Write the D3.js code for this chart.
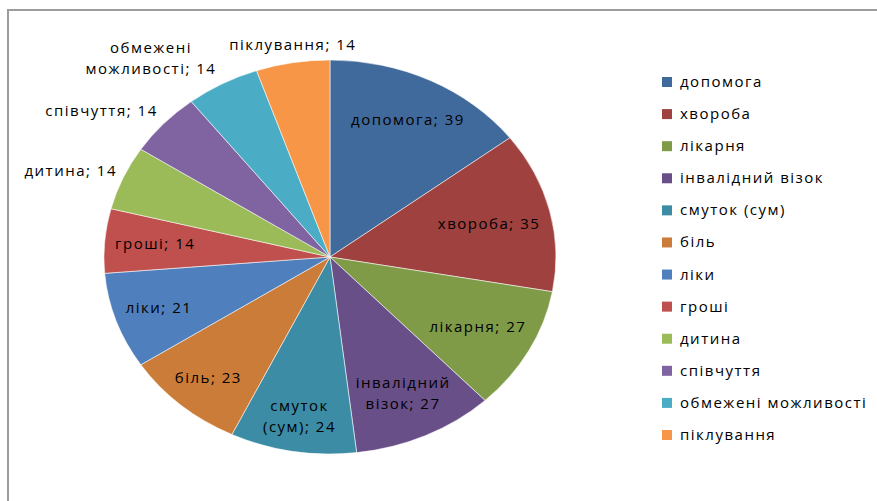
<!DOCTYPE html>
<html><head><meta charset="utf-8">
<script src="https://cdn.jsdelivr.net/npm/d3@7"></script>
<style>
body{margin:0;background:#fff}
text{font-family:"Open Sans",sans-serif;font-size:15px;letter-spacing:1.5px;fill:#000}
</style>
</head><body>
<svg id="c" width="877" height="501"></svg>
<script>
const categories = ["допомога","хвороба","лікарня","інвалідний візок","смуток (сум)","біль","ліки","гроші","дитина","співчуття","обмежені можливості","піклування"];
const values = [39,35,27,27,24,23,21,14,14,14,14,14];
const colors = ["#416a9c","#9e413f","#7f9b48","#684f88","#3c8ca5","#cb7c39","#4f80bd","#c0504d","#9bbb59","#8064a2","#4bacc6","#f79646"];

const data = categories.map((c,i)=>({c, v:values[i], col:colors[i]}));
const svg = d3.select("#c");

// frame
svg.append("path").attr("d","M8,501V10H877").attr("fill","none").attr("stroke","#9c9c9c").attr("stroke-width",2);

const cx=330, cy=257, rx=226, ry=197;
const arcs = d3.pie().sort(null).value(d=>d.v)(data);
const arc = d3.arc().innerRadius(0).outerRadius(1);

svg.append("g").attr("transform",`translate(${cx},${cy}) scale(${rx},${ry})`)
  .selectAll("path").data(arcs).join("path")
  .attr("d",arc).attr("fill",d=>d.data.col)
  .attr("stroke","#fff").attr("stroke-opacity",0.55).attr("stroke-width",1)
  .attr("vector-effect","non-scaling-stroke");

// labels
const lh = 20.5;
const lg = svg.append("g");
const norm = (x,y)=>Math.hypot((x-cx)/rx,(y-cy)/ry);
const ang = (x,y)=>{let a=Math.atan2((x-cx)/rx, -(y-cy)/ry); if(a<0) a+=2*Math.PI; return a;};

arcs.forEach(d=>{
  const name = d.data.c;
  const sp = name.indexOf(" ");
  const lines = sp>0 ? [name.slice(0,sp), name.slice(sp+1)+"; "+d.data.v] : [name+"; "+d.data.v];
  const t = lg.append("text").attr("text-anchor","middle");
  const tsp = lines.map(l=>t.append("tspan").text(l));
  const w = d3.max(tsp, s=>s.node().getComputedTextLength());
  const h = lines.length*lh;
  const a = (d.startAngle+d.endAngle)/2, sx=Math.sin(a), sy=-Math.cos(a);
  const corners = (x,y)=>[[x-w/2,y-h/2],[x+w/2,y-h/2],[x-w/2,y+h/2],[x+w/2,y+h/2]];
  // inside attempt
  let best=null;
  for(let k=0;k<=1;k+=0.004){
    const x=cx+rx*k*sx, y=cy+ry*k*sy;
    if(d3.max(corners(x,y),p=>norm(p[0],p[1]))<=0.96) best=[x,y]; else break;
  }
  let fits=false;
  if(best){
    const tol=0.02;
    fits = corners(best[0],best[1]).every(p=>{
      let q=ang(p[0],p[1]);
      return q>=d.startAngle-tol && q<=d.endAngle+tol;
    });
  }
  let pos=best;
  if(!fits){
    const px=cx+rx*sx, py=cy+ry*sy, g=6;
    const f=Math.max(0,Math.min(1,(Math.abs(sx)-0.2)/0.25));
    pos=[px+Math.sign(sx)*f*(w/2+g), py+sy*(h/2+8)];
  }
  tsp.forEach((s,i)=>s.attr("x",pos[0]).attr("y",pos[1]+(i-(lines.length-1)/2)*lh+5));
});

// legend
const ly = d3.scalePoint().domain(categories).range([82,435]);
const leg = svg.append("g");
leg.selectAll("rect").data(data).join("rect")
  .attr("x",662).attr("y",d=>ly(d.c)-5).attr("width",10).attr("height",10).attr("fill",d=>d.col);
leg.selectAll("text").data(data).join("text")
  .attr("x",680).attr("y",d=>ly(d.c)+5).text(d=>d.c);
</script>
</body></html>
